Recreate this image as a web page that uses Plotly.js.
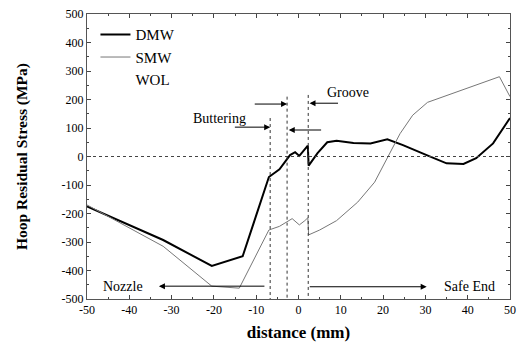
<!DOCTYPE html>
<html>
<head>
<meta charset="utf-8">
<script src="https://cdn.plot.ly/plotly-3.0.1.min.js"></script>
<style>html,body{margin:0;padding:0;background:#fff;}#chart{width:523px;height:347px;}</style>
</head>
<body>
<div id="chart"></div>
<script>
// Data
const dmwX = [-50, -40, -32, -20.5, -13.2, -7, -4.5, -2, -0.8, 0.2, 2.2, 2.4, 4.5, 6.8, 9, 13, 17, 21, 24.7, 30.3, 35, 39, 42, 46, 50];
const dmwY = [-175, -240, -293, -384, -350, -72, -45, 5, 15, 2, 38, -32, 12, 50, 55, 47, 46, 60, 40, 5, -24, -26, -6, 46, 135];
const smwX = [-50, -40, -32, -20.5, -14, -7, -4.5, -1.5, 0.2, 1.5, 2.2, 2.4, 5, 9, 14, 18, 21, 24, 27, 30.5, 47.5, 50];
const smwY = [-170, -250, -315, -455, -462, -258, -245, -218, -240, -225, -215, -275, -258, -225, -160, -90, -5, 80, 145, 190, 280, 210];
const wolX = [];
const wolY = [];
const seriesNames = ["DMW", "SMW", "WOL"];
const xTicks = [-50, -40, -30, -20, -10, 0, 10, 20, 30, 40, 50];
const yTicks = [-500, -400, -300, -200, -100, 0, 100, 200, 300, 400, 500];
// Region boundaries (mm) and their top ends (MPa)
const boundX = [-6.7, -2.7, 2.3];
const boundTop = [135, 210, 216];
// Region labels
const labelText = ["Buttering", "Groove", "Nozzle", "Safe End"];
const labelX = [-18.7, 11.6, -41.5, 40.5];
const labelY = [135, 226, -455, -455];

const serif = "Liberation Serif";

const traces = [
  {x: dmwX, y: dmwY, name: seriesNames[0], mode: "lines", line: {color: "#000", width: 2}},
  {x: smwX, y: smwY, name: seriesNames[1], mode: "lines", line: {color: "#777", width: 1}},
  {x: wolX.length ? wolX : [null], y: wolY.length ? wolY : [null], name: seriesNames[2], mode: "lines", line: {color: "rgba(0,0,0,0)", width: 1}}
];

const shapes = [
  {type: "line", xref: "paper", x0: 0, x1: 1, yref: "y", y0: 0, y1: 0, line: {color: "#444", width: 1, dash: "dot"}}
];
boundX.forEach((bx, i) => {
  shapes.push({type: "line", xref: "x", yref: "y", x0: bx, x1: bx, y0: boundTop[i], y1: -500, line: {color: "#333", width: 1, dash: "dot"}});
});

const arrow = (x, y, ax, ay) => ({x: x, y: y, ax: ax, ay: ay, xref: "x", yref: "y", axref: "x", ayref: "y", text: "", showarrow: true, arrowhead: 2, arrowsize: 1.2, arrowwidth: 1, arrowcolor: "#000"});
const annotations = [
  arrow(boundX[0], 103, -15.4, 103),
  arrow(boundX[1], 184, -10.7, 184),
  arrow(boundX[1] + 0.4, 93, 5.7, 93),
  arrow(boundX[2] + 0.3, 187, 9.7, 187),
  arrow(-33, -455, boundX[0] - 1, -455),
  arrow(30.3, -457, boundX[2], -457)
];
labelText.forEach((t, i) => {
  annotations.push({x: labelX[i], y: labelY[i], xref: "x", yref: "y", text: t, showarrow: false, font: {family: serif, size: 14, color: "#000"}});
});

const layout = {
  width: 523, height: 347,
  margin: {l: 87, r: 13, t: 14, b: 48},
  paper_bgcolor: "#fff", plot_bgcolor: "#fff",
  font: {family: serif, color: "#000"},
  showlegend: true,
  legend: {x: 0.02, y: 0.985, xanchor: "left", yanchor: "top", bgcolor: "rgba(0,0,0,0)", font: {family: serif, size: 15, color: "#000"}, tracegroupgap: 0},
  xaxis: {
    range: [-50, 50], tickvals: xTicks, ticktext: xTicks.map(String),
    ticks: "inside", ticklen: 4, tickcolor: "#444", mirror: "allticks",
    showline: true, linecolor: "#555", linewidth: 1, showgrid: false, zeroline: false,
    minor: {ticks: "inside", ticklen: 2, dtick: 5, tickcolor: "#444"},
    tickfont: {family: serif, size: 12, color: "#000"},
    title: {text: "<b>distance (mm)</b>", font: {family: serif, size: 17, color: "#000"}, standoff: 9}
  },
  yaxis: {
    range: [-500, 500], tickvals: yTicks, ticktext: yTicks.map(String),
    ticks: "inside", ticklen: 4, tickcolor: "#444", mirror: "allticks",
    showline: true, linecolor: "#555", linewidth: 1, showgrid: false, zeroline: false,
    minor: {ticks: "inside", ticklen: 2, dtick: 50, tickcolor: "#444"},
    tickfont: {family: serif, size: 12, color: "#000"},
    title: {text: "<b>Hoop Residual Stress (MPa)</b>", font: {family: serif, size: 15.5, color: "#000"}, standoff: 30}
  },
  shapes: shapes,
  annotations: annotations
};

Plotly.newPlot("chart", traces, layout, {displayModeBar: false, staticPlot: true});
</script>
</body>
</html>
